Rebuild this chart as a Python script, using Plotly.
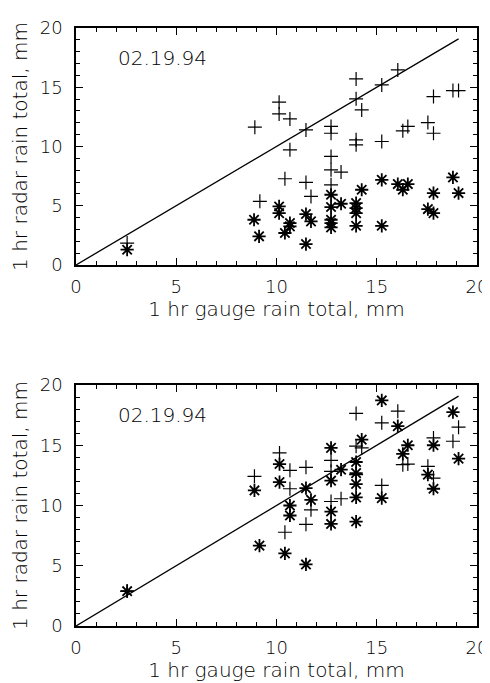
import plotly.graph_objects as go

# ---- data ----
top_plus_x = [2.55, 8.92, 9.17, 10.13, 10.13, 10.67, 10.67, 10.42, 11.47, 11.47, 11.72, 12.72, 12.72, 12.72, 12.72, 12.72,
              13.22, 13.97, 13.97, 13.97, 13.97, 14.25, 15.25, 15.25, 16.05, 16.3, 16.55, 17.55, 17.83, 17.83, 18.8, 19.08]
top_plus_y = [1.85, 11.63, 5.37, 13.74, 12.75, 12.33, 9.72, 7.28, 11.40, 6.97, 5.79, 11.69, 11.12, 9.16, 8.03, 6.77,
              7.84, 15.70, 14.02, 10.56, 10.14, 13.09, 15.20, 10.42, 16.46, 11.32, 11.69, 12.02, 11.12, 14.21, 14.72, 14.72]

top_star_x = [2.55, 8.88, 9.13, 10.13, 10.13, 10.42, 10.67, 10.67, 11.47, 11.47, 11.72, 12.72, 12.72, 12.72, 12.72, 12.72,
              13.22, 13.97, 13.97, 13.97, 13.97, 14.25, 15.25, 15.25, 16.05, 16.3, 16.55, 17.55, 17.83, 17.83, 18.8, 19.08]
top_star_y = [1.29, 3.82, 2.42, 4.94, 4.38, 2.70, 3.54, 3.26, 4.30, 1.77, 3.68, 5.93, 4.89, 3.82, 3.54, 3.17,
              5.17, 5.22, 4.80, 4.38, 3.31, 6.35, 7.19, 3.31, 6.83, 6.35, 6.83, 4.72, 4.38, 6.07, 7.39, 6.07]

bot_plus_x = [2.55, 8.9, 10.15, 10.67, 10.67, 10.42, 11.47, 11.72, 11.47, 12.72, 12.72, 12.72, 13.22, 13.97, 13.97, 14.25,
              13.97, 15.25, 15.25, 16.05, 16.3, 16.55, 17.55, 17.83, 17.83, 18.8, 19.08]
bot_plus_y = [2.9, 12.42, 14.36, 12.92, 11.39, 7.78, 13.17, 9.64, 8.44, 13.75, 12.83, 10.33, 10.56, 17.64, 14.92, 14.78,
              12.56, 16.86, 11.67, 17.83, 13.39, 13.44, 13.25, 15.61, 12.28, 15.33, 16.5]

bot_star_x = [2.55, 8.9, 9.15, 10.15, 10.15, 10.42, 10.67, 10.67, 11.47, 11.47, 11.72, 12.72, 12.72, 12.72, 12.72, 13.22,
              13.97, 13.97, 13.97, 13.97, 13.97, 14.25, 15.25, 15.25, 16.05, 16.3, 16.55, 17.55, 17.83, 17.83, 18.8, 19.08]
bot_star_y = [2.89, 11.25, 6.67, 13.44, 11.94, 6.03, 10.0, 9.17, 11.44, 5.11, 10.47, 14.78, 12.06, 9.5, 8.47, 12.97,
              13.61, 12.69, 11.78, 10.67, 8.67, 15.47, 18.72, 10.61, 16.58, 14.28, 15.0, 12.56, 15.0, 11.39, 17.75, 13.89]

one_to_one = [0, 19.08]
tick_values = [0, 5, 10, 15, 20]
date_label = "02.19.94"
x_title = "1 hr gauge rain total, mm"
y_title = "1 hr radar rain total, mm"

FONT = "DejaVu Sans ExtraLight, DejaVu Sans Light, DejaVu Sans"

fig = go.Figure()


def add_panel(xa, ya, px, py, sx, sy):
    fig.add_trace(go.Scatter(x=one_to_one, y=one_to_one, mode="lines",
                             line=dict(color="black", width=1.3),
                             xaxis=xa, yaxis=ya, showlegend=False, hoverinfo="skip"))
    fig.add_trace(go.Scatter(x=px, y=py, mode="markers",
                             marker=dict(symbol="cross-thin", size=10,
                                         line=dict(color="black", width=1.2)),
                             xaxis=xa, yaxis=ya, showlegend=False))
    fig.add_trace(go.Scatter(x=sx, y=sy, mode="markers",
                             marker=dict(symbol="asterisk", size=11,
                                         line=dict(color="black", width=1.8)),
                             xaxis=xa, yaxis=ya, showlegend=False))


add_panel("x", "y", top_plus_x, top_plus_y, top_star_x, top_star_y)
add_panel("x2", "y2", bot_plus_x, bot_plus_y, bot_star_x, bot_star_y)


def axis(domain, anchor, title, standoff, label_gap):
    return dict(
        domain=domain, anchor=anchor, range=[0, 20], automargin=False,
        showline=True, linecolor="black", linewidth=1.5, mirror="allticks",
        ticks="inside", ticklen=7, tickwidth=1.2, tickcolor="black",
        tickmode="array", tickvals=tick_values, ticktext=[str(v) for v in tick_values],
        minor=dict(ticks="inside", ticklen=4, tickwidth=1, tickcolor="black",
                   tickmode="linear", tick0=0, dtick=1),
        showgrid=False, zeroline=False, ticklabelstandoff=label_gap,
        tickfont=dict(family=FONT, size=18, color="black"),
        title=dict(text=title, font=dict(family=FONT, size=20, color="black"), standoff=standoff),
    )


# page body adds an 8px offset, so the figure is drawn 8px smaller
W, HT = 482, 675
ML, MR, MT, MB = 68, 13, 20, 57
H = HT - MT - MB
top_dom = [1 - 237 / H, 1.0]
bot_dom = [0.0, 241 / H]

fig.update_layout(
    width=W, height=HT,
    margin=dict(l=ML, r=MR, t=MT, b=MB, autoexpand=False),
    paper_bgcolor="white", plot_bgcolor="white",
    xaxis=axis([0, 1], "y", x_title, 5, 5),
    yaxis=axis(top_dom, "x", y_title, 8, 8),
    xaxis2=axis([0, 1], "y2", x_title, 5, 5),
    yaxis2=axis(bot_dom, "x2", y_title, 8, 8),
    annotations=[
        dict(text=date_label, x=2.0, y=17.5, xref="x", yref="y", xanchor="left", yanchor="middle",
             showarrow=False, font=dict(family=FONT, size=20, color="black")),
        dict(text=date_label, x=2.0, y=17.5, xref="x2", yref="y2", xanchor="left", yanchor="middle",
             showarrow=False, font=dict(family=FONT, size=20, color="black")),
    ],
)

fig.write_html("out.html")
